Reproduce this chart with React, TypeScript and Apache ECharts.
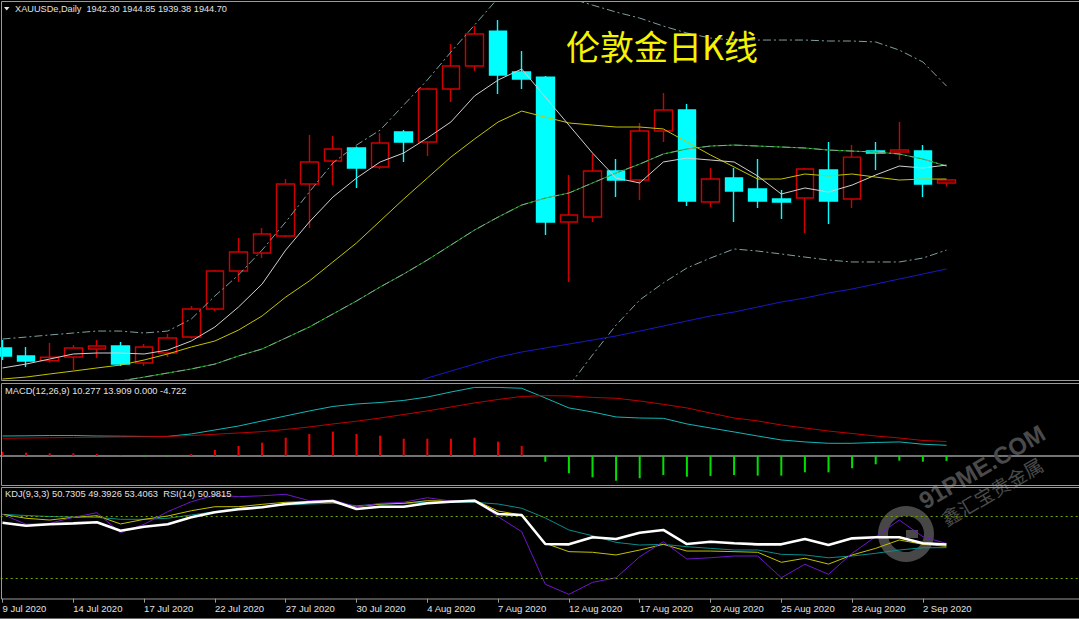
import React, { useEffect, useRef } from 'react';
import * as echarts from 'echarts';

// ---------- categories ----------
const dates = [
  '9 Jul 2020', '10 Jul 2020', '13 Jul 2020', '14 Jul 2020', '15 Jul 2020', '16 Jul 2020', '17 Jul 2020',
  '20 Jul 2020', '21 Jul 2020', '22 Jul 2020', '23 Jul 2020', '24 Jul 2020', '27 Jul 2020', '28 Jul 2020',
  '29 Jul 2020', '30 Jul 2020', '31 Jul 2020', '3 Aug 2020', '4 Aug 2020', '5 Aug 2020', '6 Aug 2020',
  '7 Aug 2020', '10 Aug 2020', '11 Aug 2020', '12 Aug 2020', '13 Aug 2020', '14 Aug 2020', '17 Aug 2020',
  '18 Aug 2020', '19 Aug 2020', '20 Aug 2020', '21 Aug 2020', '24 Aug 2020', '25 Aug 2020', '26 Aug 2020',
  '27 Aug 2020', '28 Aug 2020', '31 Aug 2020', '1 Sep 2020', '2 Sep 2020', '3 Sep 2020',
];
// empty future slots on the right side of the chart (chart shift)
const futureSlots = ['f1', 'f2', 'f3', 'f4', 'f5', 'f6'];

// ---------- price (OHLC) ----------
const open = [1807.8, 1801.3, 1797.5, 1800.4, 1807.0, 1809.4, 1795.6, 1803.7, 1816.7, 1839.6, 1870.5, 1885.2, 1899.1, 1941.4, 1960.2, 1970.8, 1955.3, 1983.8, 1975.7, 2018.9, 2037.6, 2066.1, 2032.7, 2028.6, 1910.5, 1914.5, 1952.0, 1944.7, 1984.6, 2001.8, 1926.8, 1946.3, 1937.4, 1929.2, 1930.0, 1952.9, 1929.2, 1968.3, 1967.5, 1968.3, 1942.30];
const close = [1801.3, 1797.2, 1800.2, 1807.8, 1809.4, 1794.7, 1808.6, 1815.9, 1839.6, 1870.6, 1886.0, 1900.7, 1941.4, 1959.4, 1970.0, 1954.5, 1974.9, 1975.7, 2018.9, 2037.6, 2063.7, 2030.3, 2027.0, 1910.5, 1916.2, 1952.0, 1944.7, 1984.6, 2001.8, 1927.6, 1945.5, 1935.7, 1927.6, 1926.8, 1953.7, 1927.6, 1963.4, 1966.7, 1969.2, 1941.4, 1944.70];
const low = [1798.0, 1792.3, 1796.0, 1789.9, 1799.6, 1793.1, 1793.1, 1800.4, 1815.5, 1838.0, 1861.6, 1881.1, 1898.0, 1905.6, 1940.6, 1938.2, 1953.7, 1959.4, 1964.3, 2008.3, 2033.5, 2014.8, 2018.9, 1899.9, 1861.6, 1910.5, 1930.8, 1928.4, 1975.7, 1923.5, 1922.7, 1910.5, 1921.9, 1912.9, 1901.5, 1908.8, 1921.9, 1952.9, 1961.0, 1930.8, 1939.38];
const high = [1814.3, 1808.6, 1811.8, 1810.2, 1814.3, 1812.7, 1811.0, 1819.2, 1842.0, 1871.4, 1897.4, 1905.6, 1945.5, 1981.4, 1980.6, 1972.0, 1983.0, 1985.4, 2019.7, 2055.5, 2070.2, 2075.1, 2049.8, 2029.4, 1948.8, 1965.9, 1961.8, 1991.2, 2015.6, 2006.6, 1954.5, 1954.5, 1961.8, 1936.6, 1954.5, 1975.7, 1973.2, 1975.7, 1992.0, 1973.2, 1944.85];

// ---------- main-chart indicators ----------
const maFast = [1791.5, 1794.7, 1798.8, 1802.9, 1803.7, 1803.7, 1802.9, 1806.1, 1813.5, 1824.9, 1841.2, 1859.9, 1887.6, 1910.5, 1930.8, 1946.3, 1959.4, 1966.7, 1978.9, 1992.0, 2013.2, 2026.2, 2035.2, 2012.3, 1989.5, 1966.7, 1946.3, 1942.3, 1959.4, 1962.6, 1961.0, 1959.4, 1948.0, 1933.3, 1938.2, 1934.9, 1940.6, 1948.8, 1956.1, 1954.5, 1956.9];
const maMid = [1782.5, 1784.1, 1786.6, 1789.0, 1791.5, 1793.9, 1798.0, 1802.9, 1808.6, 1813.5, 1822.4, 1833.9, 1849.3, 1862.4, 1877.9, 1893.4, 1911.3, 1929.2, 1946.3, 1963.4, 1978.1, 1992.0, 2000.9, 1996.0, 1991.2, 1989.5, 1987.9, 1987.9, 1986.3, 1975.7, 1965.1, 1955.3, 1945.5, 1945.5, 1949.6, 1948.0, 1949.6, 1947.1, 1944.7, 1945.5, 1945.5];
const maSlow = [1769.5, 1771.9, 1774.4, 1776.8, 1779.3, 1780.9, 1784.1, 1787.4, 1790.7, 1794.7, 1801.3, 1807.0, 1815.9, 1824.9, 1835.5, 1846.1, 1857.5, 1868.1, 1879.5, 1891.7, 1903.9, 1914.5, 1924.3, 1930.0, 1934.1, 1942.3, 1950.4, 1957.7, 1965.9, 1970.0, 1972.4, 1973.2, 1972.4, 1971.6, 1970.8, 1969.1, 1968.3, 1967.5, 1965.9, 1961.8, 1956.1];
const maLong = [1690, 1694, 1698, 1702, 1706, 1710, 1714, 1718, 1722, 1727, 1732, 1737, 1743, 1749, 1755, 1762, 1769, 1775, 1783.3, 1789.0, 1794.7, 1800.4, 1804.5, 1807.8, 1811.0, 1814.3, 1817.6, 1821.6, 1825.7, 1829.8, 1833.9, 1837.1, 1841.2, 1845.3, 1848.5, 1852.6, 1855.9, 1859.9, 1864.0, 1868.1, 1872.2];
const bbUpper = [1815.1, 1816.7, 1818.4, 1820.0, 1821.6, 1821.6, 1820.0, 1821.6, 1831.4, 1850.2, 1867.3, 1887.6, 1910.5, 1934.9, 1958.6, 1973.2, 1985.4, 2005.8, 2026.2, 2049.0, 2071.0, 2093.0, 2101.2, 2099.5, 2093.0, 2087.3, 2081.6, 2076.7, 2070.2, 2064.5, 2060.4, 2058.8, 2058.8, 2058.8, 2058.8, 2058.0, 2058.0, 2057.2, 2050.6, 2040.9, 2021.3];
const bbLower = [1724, 1727, 1730, 1734, 1737, 1740, 1748, 1753, 1750, 1739, 1735, 1726, 1721, 1715, 1712, 1719, 1730, 1730, 1733, 1734, 1737, 1736, 1747, 1749, 1776.8, 1802.1, 1826.5, 1846.9, 1860.8, 1873.0, 1881.1, 1888.5, 1886.8, 1884.4, 1881.9, 1879.5, 1877.9, 1877.9, 1877.9, 1881.1, 1887.6];

// ---------- MACD(12,26,9) ----------
const macdLine = [19.2, 19.4, 19.7, 19.7, 19.2, 19.0, 18.8, 18.8, 21.2, 25.0, 28.8, 33.7, 38.5, 43.3, 47.6, 50.0, 51.4, 53.4, 56.7, 61.5, 65.9, 65.9, 65.1, 55.8, 46.2, 42.3, 37.5, 36.5, 36.2, 30.8, 26.9, 23.1, 19.2, 15.4, 13.5, 12.2, 12.2, 13.0, 13.5, 11.3, 10.277];
const signalLine = [17.0, 17.3, 17.5, 17.8, 18.0, 18.3, 18.5, 18.8, 19.7, 20.9, 22.1, 23.4, 25.5, 27.9, 30.8, 33.4, 36.5, 39.9, 43.3, 47.1, 51.0, 54.3, 57.2, 58.0, 57.7, 56.3, 55.5, 52.9, 49.7, 46.2, 41.3, 36.5, 33.7, 29.8, 26.9, 24.0, 21.6, 19.2, 17.3, 14.9, 13.909];
const macdHist = [4.1, 3.2, 2.6, 2.6, 1.9, 0.3, -0.5, -0.5, 1.9, 5.8, 9.6, 12.8, 17.6, 21.2, 23.4, 21.2, 19.5, 16.6, 16.6, 16.6, 17.6, 13.8, 9.6, -5.5, -16.6, -20.5, -23.8, -21.4, -18.3, -19.9, -19.2, -18.3, -18.9, -18.9, -15.7, -15.7, -11.8, -8.0, -4.5, -5.5, -4.722];

// ---------- KDJ(9,3,3) & RSI(14) ----------
const kLine = [81.6, 77.8, 76.1, 78.7, 80.3, 72.3, 76.8, 80.0, 85.1, 89.0, 89.0, 91.3, 93.3, 93.8, 93.8, 89.0, 91.6, 92.3, 94.8, 94.5, 95.5, 84.8, 81.0, 53.6, 45.5, 44.9, 42.3, 47.1, 52.6, 46.1, 46.1, 45.5, 44.9, 35.2, 39.1, 33.5, 42.3, 48.7, 56.8, 52.6, 50.7305];
const dLine = [81.6, 80.5, 79.5, 79.0, 78.7, 76.8, 76.8, 77.8, 81.0, 84.2, 87.5, 89.0, 90.6, 91.6, 92.3, 90.0, 91.3, 92.3, 93.3, 93.3, 93.3, 91.6, 87.5, 78.1, 66.5, 60.9, 54.5, 51.9, 52.6, 50.3, 48.7, 47.1, 47.1, 42.9, 42.3, 39.6, 41.3, 43.9, 47.1, 49.3, 49.3926];
const jLine = [81.6, 72.0, 72.9, 78.7, 83.2, 63.8, 72.0, 84.2, 93.8, 100.3, 98.7, 99.6, 101.0, 94.8, 95.5, 89.0, 92.3, 93.3, 97.7, 94.5, 95.5, 79.3, 64.8, 13.9, 4.2, 15.8, 20.3, 40.6, 55.1, 38.4, 39.6, 41.3, 41.3, 20.3, 33.3, 23.6, 43.9, 60.0, 76.1, 60.0, 53.4063];
const rsiLine = [73.5, 70.6, 72.0, 72.9, 73.9, 65.8, 69.6, 72.0, 78.7, 83.6, 86.5, 88.4, 91.6, 93.3, 94.5, 86.8, 89.0, 89.0, 92.3, 93.8, 94.8, 81.9, 81.0, 52.9, 52.6, 59.4, 57.7, 63.8, 66.5, 52.9, 55.1, 53.6, 52.6, 52.6, 57.7, 51.9, 58.4, 59.4, 59.4, 53.6, 52.5];
const kdjLevels = [80, 20];

// ---------- texts ----------
const headerText = 'XAUUSDe,Daily  1942.30 1944.85 1939.38 1944.70';
const macdTitle = 'MACD(12,26,9) 10.277 13.909 0.000 -4.722';
const kdjTitle = 'KDJ(9,3,3) 50.7305 49.3926 53.4063  RSI(14) 50.9815';
const bigTitle = '伦敦金日K线';

// The chart canvas starts OFF px left of the page so that the first bar is half cut off
const OFF = 10;
const CANVAS_W = 1125;
const BAND = 23.6;
const GRID_LEFT = OFF - 9.3;
const N_SLOTS = dates.length + futureSlots.length;
const GRID_W = BAND * N_SLOTS;
const FRAME = '#9a9a9a';
const TEXT = '#e2e2e2';
const FONT = '"Liberation Sans", Arial, sans-serif';

function buildOption(): any {
  const cats = dates.concat(futureSlots);
  const candles = dates.map((_, i) => [open[i], close[i], low[i], high[i]]);
  const showIdx = (i: number) => i % 3 === 0 && i < dates.length;

  const baseX = (gi: number) => ({
    type: 'category',
    gridIndex: gi,
    data: cats,
    boundaryGap: true,
    axisLabel: { show: false },
    axisTick: { show: false },
    axisLine: { show: false },
    splitLine: { show: false },
  });

  const line = (name: string, data: number[], color: string, extra: any = {}) => ({
    type: 'line',
    name,
    data,
    xAxisIndex: extra.xi ?? 0,
    yAxisIndex: extra.yi ?? 0,
    symbol: 'none',
    smooth: false,
    silent: true,
    z: extra.z ?? 3,
    lineStyle: { color, width: extra.width ?? 1, type: extra.type ?? 'solid' },
    ...(extra.markLine ? { markLine: extra.markLine } : {}),
  });

  const dashDot = [8, 3, 2, 3];

  return {
    animation: false,
    backgroundColor: '#000000',
    grid: [
      { left: GRID_LEFT, top: 2, width: GRID_W, height: 378 },
      { left: GRID_LEFT, top: 384, width: GRID_W, height: 101 },
      { left: GRID_LEFT, top: 488, width: GRID_W, height: 111 },
    ],
    xAxis: [
      baseX(0),
      {
        ...baseX(1),
        axisLine: { show: true, onZero: true, lineStyle: { color: FRAME, width: 1.5 } },
      },
      {
        ...baseX(2),
        axisTick: {
          show: true,
          alignWithLabel: true,
          interval: (i: number) => showIdx(i),
          length: 4,
          lineStyle: { color: FRAME },
        },
        axisLabel: {
          show: true,
          interval: (i: number) => showIdx(i),
          formatter: (v: string, i: number) => (i < dates.length ? v : ''),
          color: TEXT,
          fontSize: 9.5,
          fontFamily: FONT,
          align: 'left',
          margin: 4,
        },
      },
    ],
    yAxis: [
      { type: 'value', gridIndex: 0, show: false, min: 1781.7, max: 2089.8, splitLine: { show: false } },
      { type: 'value', gridIndex: 1, show: false, min: -27.9, max: 69.2, splitLine: { show: false } },
      { type: 'value', gridIndex: 2, show: false, min: -0.3, max: 107.1, splitLine: { show: false } },
    ],
    series: [
      {
        type: 'candlestick',
        name: 'XAUUSDe',
        data: candles,
        xAxisIndex: 0,
        yAxisIndex: 0,
        barWidth: 18,
        z: 2,
        silent: true,
        itemStyle: {
          color: 'rgba(0,0,0,0)',
          color0: '#00ffff',
          borderColor: '#d00000',
          borderColor0: '#00ffff',
          borderWidth: 1.4,
        },
      },
      line('BB upper', bbUpper, '#7f9f9f', { type: dashDot }),
      line('BB lower', bbLower, '#7f9f9f', { type: dashDot }),
      line('MA long', maLong, '#1818c8'),
      line('MA slow', maSlow, '#00a800'),
      line('BB middle', maSlow, '#8aa0a0', { type: dashDot, z: 4 }),
      line('MA mid', maMid, '#c4c400'),
      line('MA fast', maFast, '#cfcfcf', { z: 5 }),

      {
        type: 'bar',
        name: 'MACD hist',
        data: macdHist,
        xAxisIndex: 1,
        yAxisIndex: 1,
        barWidth: 2,
        silent: true,
        itemStyle: {
          color: (p: any) => (p.value >= 0 ? '#ee0000' : '#00e000'),
        },
      },
      line('MACD', macdLine, '#12b6b6', { xi: 1, yi: 1 }),
      line('Signal', signalLine, '#c00000', { xi: 1, yi: 1 }),

      line('D', dLine, '#0a8c8c', {
        xi: 2,
        yi: 2,
        markLine: {
          silent: true,
          symbol: 'none',
          label: { show: false },
          lineStyle: { color: '#74a800', type: [2, 3], width: 1 },
          data: kdjLevels.map((v) => ({ yAxis: v })),
        },
      }),
      line('K', kLine, '#c4c000', { xi: 2, yi: 2 }),
      line('J', jLine, '#6e18c8', { xi: 2, yi: 2 }),
      line('RSI', rsiLine, '#ffffff', { xi: 2, yi: 2, width: 2.6, z: 6 }),
    ],
    graphic: [
      // panel frames
      { type: 'rect', z: 20, silent: true, shape: { x: OFF + 1.5, y: 1.5, width: 1100, height: 379 }, style: { fill: 'none', stroke: FRAME, lineWidth: 1 } },
      { type: 'rect', z: 20, silent: true, shape: { x: OFF + 1.5, y: 383.5, width: 1100, height: 102 }, style: { fill: 'none', stroke: FRAME, lineWidth: 1 } },
      { type: 'rect', z: 20, silent: true, shape: { x: OFF + 1.5, y: 487.5, width: 1100, height: 111.5 }, style: { fill: 'none', stroke: FRAME, lineWidth: 1 } },
      { type: 'line', z: 20, silent: true, shape: { x1: OFF, y1: 618.5, x2: OFF + 1079, y2: 618.5 }, style: { stroke: '#6a6a6a', lineWidth: 1 } },
      // header
      { type: 'polygon', z: 20, silent: true, shape: { points: [[OFF + 4, 7], [OFF + 9.5, 7], [OFF + 6.75, 10.5]] }, style: { fill: TEXT } },
      { type: 'text', z: 20, silent: true, x: OFF + 15, y: 9, style: { text: headerText, fill: TEXT, font: `9.2px ${FONT}`, verticalAlign: 'middle' } },
      { type: 'text', z: 20, silent: true, x: OFF + 5, y: 391, style: { text: macdTitle, fill: TEXT, font: `9.3px ${FONT}`, verticalAlign: 'middle' } },
      { type: 'text', z: 20, silent: true, x: OFF + 5, y: 494, style: { text: kdjTitle, fill: TEXT, font: `9.3px ${FONT}`, verticalAlign: 'middle' } },
      // big title
      { type: 'text', z: 20, silent: true, x: OFF + 566, y: 45, style: { text: bigTitle, fill: '#f4f400', font: '34px "Noto Sans CJK SC"', verticalAlign: 'middle' } },
      // watermark
      { type: 'ring', z: 1, silent: true, shape: { cx: OFF + 906, cy: 534, r: 28, r0: 18 }, style: { fill: '#474747' } },
      { type: 'rect', z: 1, silent: true, shape: { x: OFF + 906, y: 530, width: 12, height: 8 }, style: { fill: '#474747' } },
      {
        type: 'group',
        z: 1,
        silent: true,
        x: OFF + 927,
        y: 513,
        rotation: 0.53,
        children: [
          { type: 'text', z: 1, silent: true, x: 0, y: 0, style: { text: '91PME.COM', fill: '#4a4a4a', font: `bold 24px ${FONT}`, verticalAlign: 'bottom' } },
          { type: 'text', z: 1, silent: true, x: 10, y: 4, style: { text: '鑫汇宝贵金属', fill: '#4a4a4a', font: '19px "Noto Sans CJK SC"', verticalAlign: 'top' } },
        ],
      },
    ],
  };
}

export default function App() {
  const ref = useRef<HTMLDivElement>(null);
  useEffect(() => {
    if (!ref.current) return;
    const chart = echarts.init(ref.current, undefined, { renderer: 'svg' });
    chart.setOption(buildOption());
    return () => chart.dispose();
  }, []);
  return (
    <div
      ref={ref}
      style={{ position: 'fixed', left: -OFF, top: 0, width: CANVAS_W, height: 619, background: '#000' }}
    />
  );
}
